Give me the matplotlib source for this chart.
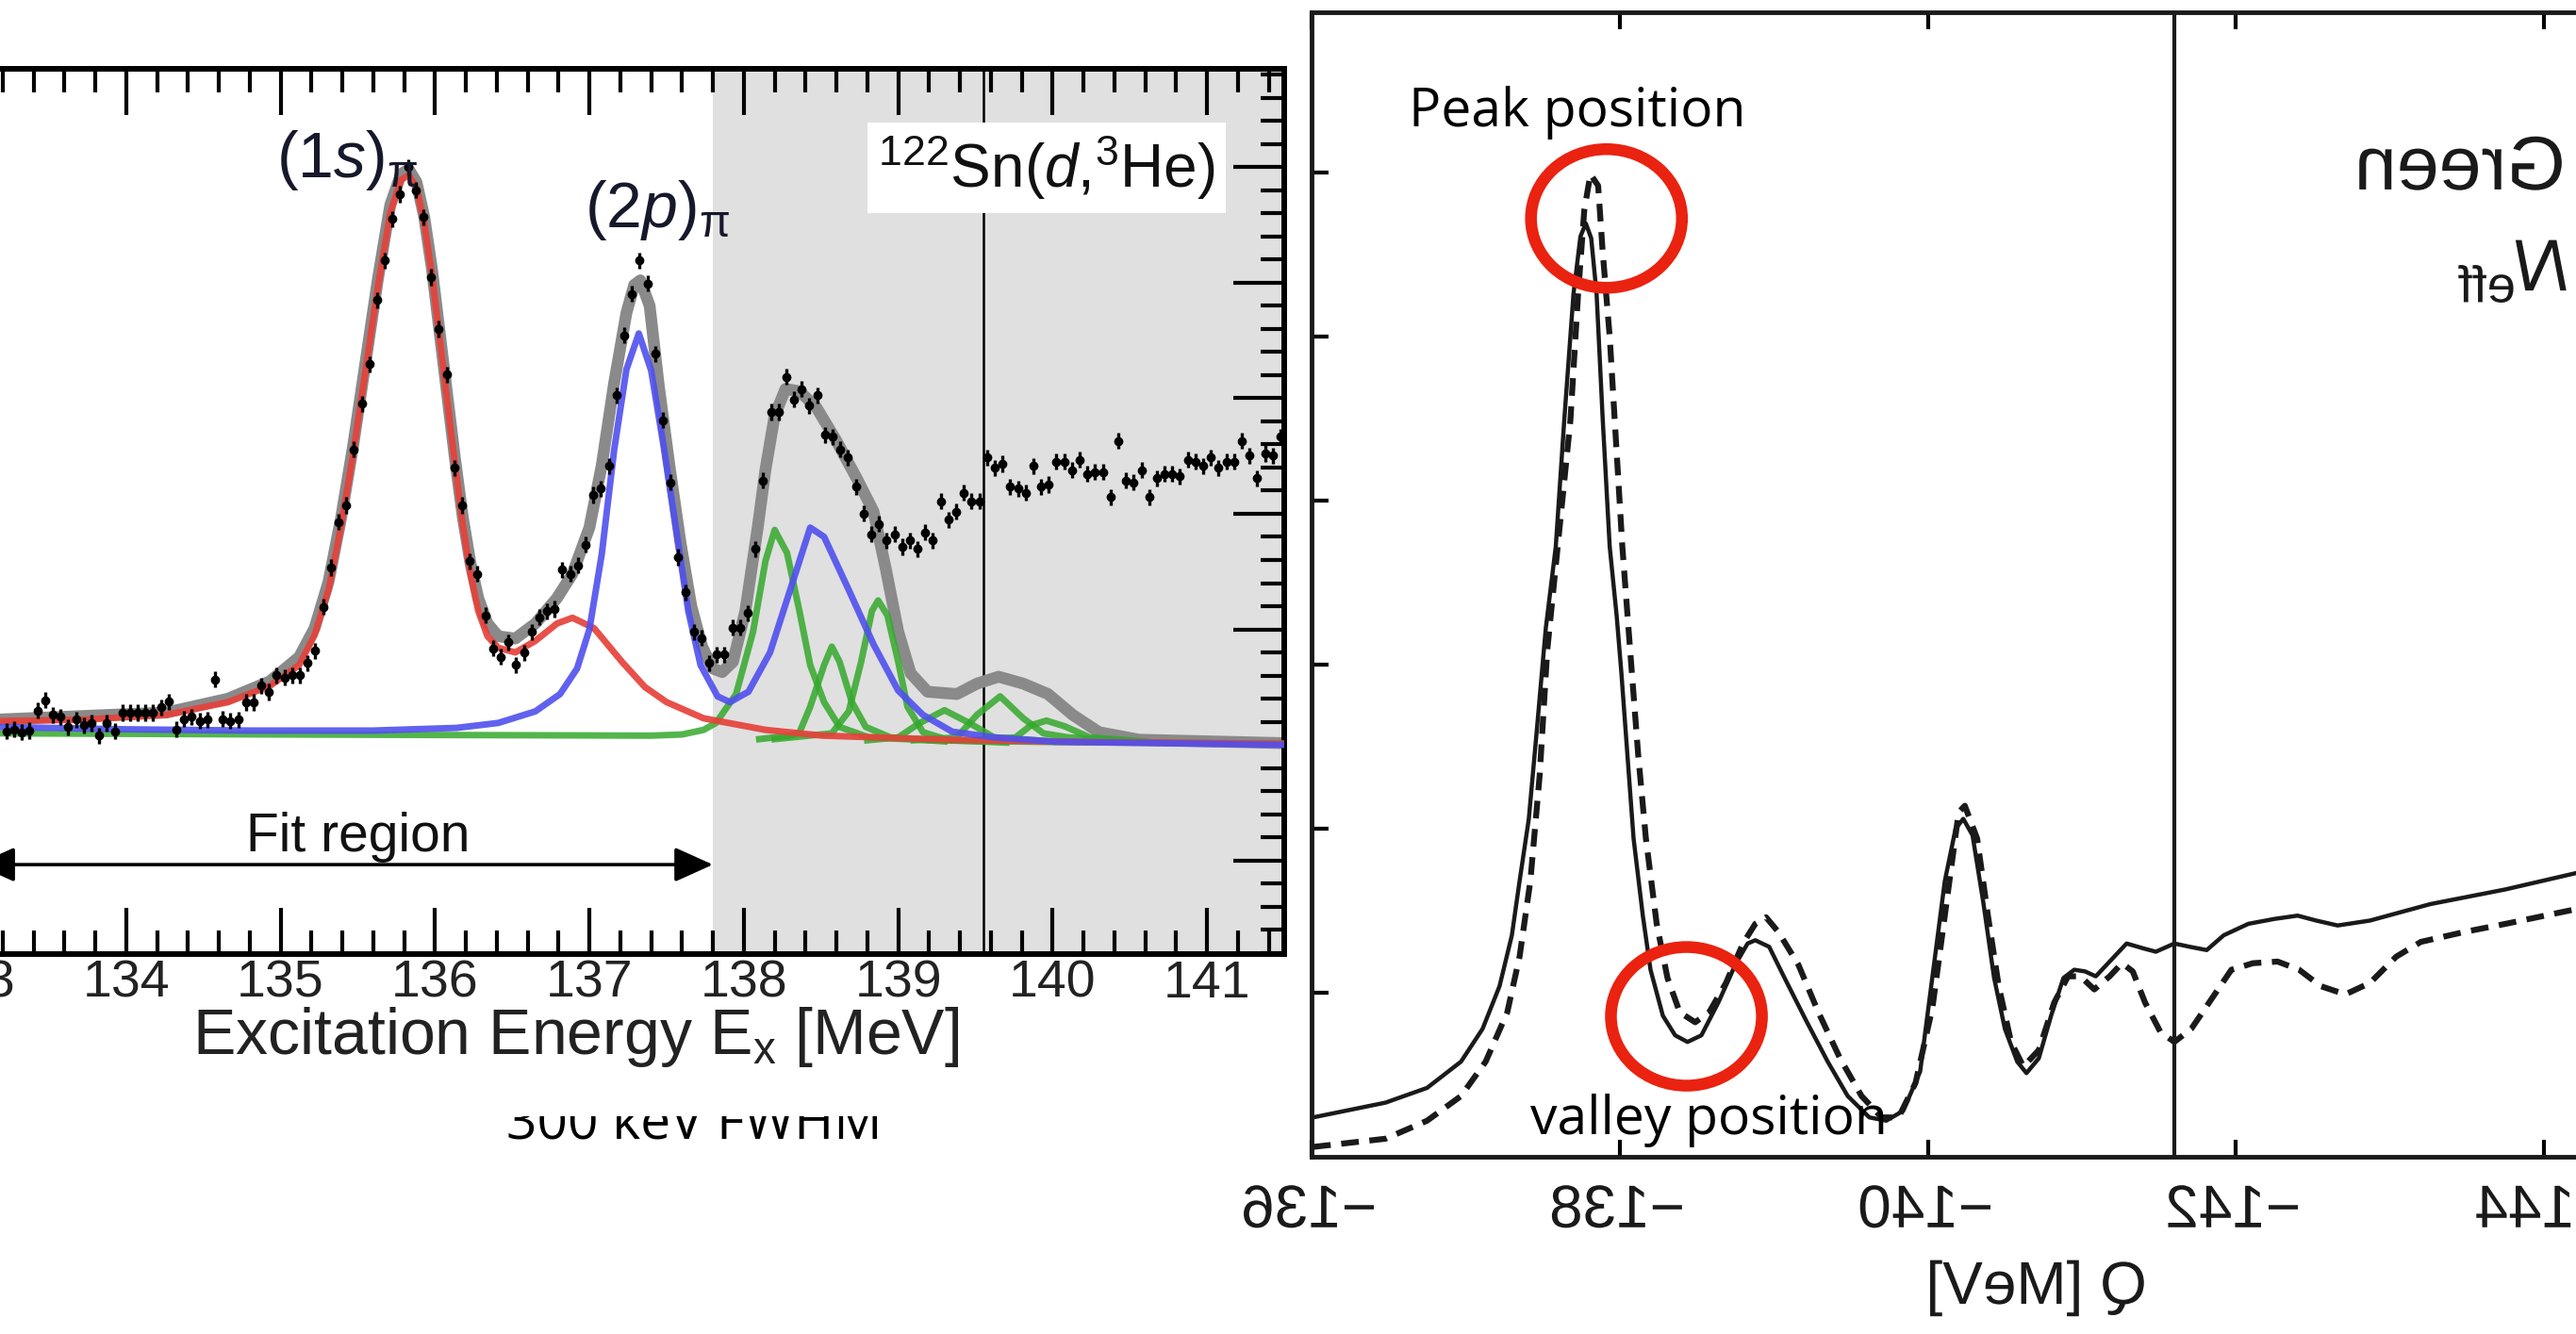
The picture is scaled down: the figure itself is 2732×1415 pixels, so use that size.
import matplotlib
matplotlib.use('Agg')
import numpy as np
import matplotlib.pyplot as plt
import matplotlib.patheffects as pe
from matplotlib.patches import Ellipse
from matplotlib.ticker import MultipleLocator
from matplotlib.transforms import Affine2D, Bbox, TransformedBbox

plt.rcParams['font.family'] = ['Liberation Sans', 'DejaVu Sans']
plt.rcParams['mathtext.fontset'] = 'custom'
plt.rcParams['mathtext.rm'] = 'Liberation Sans'
plt.rcParams['mathtext.it'] = 'Liberation Sans:italic'
plt.rcParams['mathtext.bf'] = 'Liberation Sans:bold'

# ---- left panel: 122Sn(d,3He) spectrum -------------------------------------
bin_start, bin_width = 133.225, 0.05     # histogram bins [MeV]
counts = [11.7, 13.5, 11.0, 12.4, 29.6, 38.6, 26.0, 24.2, 15.3, 21.8,
          17.1, 18.9, 8.1, 18.9, 11.7, 27.8, 27.8, 27.8, 27.8, 27.8,
          32.5, 37.5, 13.5, 22.4, 24.2, 20.6, 21.8, 56.5, 22.4, 20.6,
          21.8, 36.8, 36.8, 51.1, 45.8, 60.1, 58.3, 60.1, 60.1, 70.9,
          81.6, 119.4, 153.5, 193.0, 207.3, 255.8, 295.3, 329.3, 385.0, 419.1,
          455.0, 476.5, 499.8, 480.1, 456.8, 404.7, 359.9, 320.4, 239.6, 207.3,
          158.9, 148.1, 112.2, 83.4, 76.3, 88.8, 69.1, 79.9, 97.8, 110.4,
          115.8, 117.6, 151.7, 148.1, 155.3, 173.2, 216.3, 221.7, 241.4, 302.4,
          354.5, 390.4, 419.1,
          399.3, 338.3, 280.9, 227.1, 162.5, 131.9, 97.8, 92.4, 70.9, 78.1,
          78.1, 101.4, 101.4, 114.0, 169.7, 228.9, 288.1, 288.1, 318.6, 298.9,
          307.8, 293.4, 302.4, 268.3, 266.6, 255.8, 248.6, 223.5, 200.2, 182.2,
          191.2, 176.8, 182.2, 171.4, 176.8, 169.7, 184.0, 176.8, 210.9, 194.8,
          202.0, 218.3, 210.9, 210.9, 248.6, 239.6, 243.2, 223.5, 221.7, 218.3,
          241.4, 223.5, 225.3, 245.0, 245.0, 237.8, 246.8, 234.3, 236.1, 236.1,
          214.5, 263.0, 228.9, 227.1, 237.8, 214.5, 230.6, 234.3, 234.3, 232.4,
          246.8, 245.0, 241.4, 248.6, 239.6, 245.0, 245.0, 263.0, 250.4, 230.6,
          252.2, 250.4, 266.6]
count_err = 7.0

total_x = [133.18, 134.26, 134.66, 134.93, 135.12, 135.22, 135.31, 135.39, 135.47, 135.55,
           135.63, 135.71, 135.78, 135.83, 135.88, 135.93, 135.98, 136.03, 136.08, 136.13,
           136.18, 136.23, 136.28, 136.34, 136.41, 136.52, 136.65, 136.79, 136.89, 137.00,
           137.08, 137.16, 137.24, 137.29, 137.33, 137.39, 137.45, 137.52, 137.59, 137.66,
           137.73, 137.80, 137.86, 137.93, 138.01, 138.09, 138.14, 138.20, 138.27, 138.36,
           138.47, 138.60, 138.73, 138.84, 138.92, 139.00, 139.08, 139.19, 139.38, 139.51,
           139.65, 139.81, 139.97, 140.13, 140.30, 140.56, 141.50]
total_y = [22, 28, 40, 55, 76, 101, 141, 195, 259, 331,
           403, 467, 494, 498, 487, 457, 412, 357, 302, 247,
           197, 157, 127, 105, 94, 92, 105, 127, 148, 188,
           242, 313, 374, 398, 402, 380, 310, 240, 175, 120,
           85, 66, 63, 72, 116, 188, 238, 285, 308, 306,
           292, 263, 231, 202, 152, 98, 62, 46, 44, 53,
           59, 53, 44, 26, 11, 4.5, 1.5]

s_x = [133.18, 133.72, 134.26, 134.66, 134.93, 135.12, 135.22, 135.31, 135.39, 135.47,
       135.55, 135.63, 135.71, 135.78, 135.83, 135.88, 135.93, 135.98, 136.03, 136.08,
       136.13, 136.18, 136.23, 136.28, 136.34, 136.41, 136.52, 136.65, 136.79, 136.89,
       137.03, 137.21, 137.36, 137.50, 137.74, 138.14, 138.51, 139.32, 140.12, 141.50]
s_y = [20.6, 21.8, 26, 37, 51, 69, 95, 134, 188, 252,
       324, 396, 460, 489, 493, 482, 452, 407, 352, 297,
       242, 190, 148, 116, 94, 84, 80, 90, 105, 110,
       101, 72, 50, 37, 23, 13, 8, 4.5, 2.7, 1]

p_x = [133.18, 133.99, 134.80, 135.60, 136.14, 136.41, 136.65, 136.81, 136.92, 137.00,
       137.08, 137.16, 137.24, 137.32, 137.40, 137.48, 137.56, 137.64, 137.72, 137.83,
       137.91, 138.03, 138.17, 138.30, 138.43, 138.52, 138.68, 138.84, 139.00, 139.16,
       139.35, 139.62, 140.02, 141.50]
p_y = [15.5, 13.5, 12.4, 12.4, 14.7, 19, 29, 44, 66, 100,
       165, 255, 325, 356, 324, 259, 188, 116, 69, 42,
       37, 46, 80, 134, 188, 180, 134, 87, 47, 26,
       11.4, 6.5, 2.7, 0]

d_peaks = [
    ([133.18, 135.0, 137.4, 137.6, 137.74, 137.82, 137.95, 138.06, 138.14, 138.20,
      138.28, 138.36, 138.43, 138.52, 138.62, 138.81, 139.2, 140.0, 141.5],
     [10, 9, 8, 9, 13, 19, 44, 98, 159, 186, 166, 116, 69, 37, 15.5, 6.5, 4, 2.5, 1]),
    ([138.10, 138.30, 138.36, 138.43, 138.52, 138.57, 138.62, 138.70, 138.79, 138.95, 139.30],
     [5, 8, 10.6, 33, 69, 85, 72, 37, 15.5, 6.5, 3]),
    ([138.20, 138.57, 138.68, 138.76, 138.83, 138.87, 138.93, 139.00, 139.06, 139.16, 139.33, 139.70],
     [5, 10, 29, 72, 116, 125, 112, 72, 33, 11, 4, 2]),
    ([138.80, 139.00, 139.14, 139.30, 139.46, 139.62, 140.00],
     [4, 6.5, 19, 30, 19, 6.5, 3]),
    ([139.10, 139.38, 139.51, 139.66, 139.81, 139.94, 140.10, 140.50],
     [4, 6.5, 26, 42, 23, 10, 6.5, 3]),
    ([139.50, 139.76, 139.86, 139.96, 140.08, 140.24, 140.60],
     [4, 6.5, 17, 21, 16, 6.5, 3]),
]

fit_end = 137.8
ref_line = 139.55

# ---- right panel: mirrored Q-spectrum --------------------------------------
green_q = [-136.01, -136.48, -136.75, -136.97, -137.11, -137.22, -137.30, -137.35, -137.41, -137.46,
           -137.52, -137.585, -137.64, -137.70, -137.745, -137.78, -137.815, -137.85, -137.89, -137.935,
           -137.98, -138.01, -138.05, -138.09, -138.15, -138.20, -138.28, -138.36, -138.44, -138.53,
           -138.64, -138.75, -138.83, -138.88, -138.97, -139.07, -139.21, -139.35, -139.48, -139.62,
           -139.73, -139.84, -139.95, -140.03, -140.11, -140.18, -140.23, -140.29, -140.36, -140.43,
           -140.50, -140.58, -140.64, -140.72, -140.80, -140.88, -140.95, -141.02, -141.09, -141.18,
           -141.29, -141.40, -141.48, -141.60, -141.70, -141.81, -141.92, -142.08, -142.25, -142.40,
           -142.52, -142.66, -142.87, -143.26, -143.75, -144.21]
green_val = [0.24, 0.33, 0.42, 0.58, 0.78, 1.04, 1.35, 1.68, 2.06, 2.58,
             3.22, 3.72, 4.49, 5.26, 5.61, 5.69, 5.60, 5.26, 4.49, 3.72,
             3.30, 2.96, 2.45, 1.94, 1.47, 1.14, 0.86, 0.74, 0.70, 0.74,
             0.94, 1.17, 1.30, 1.32, 1.28, 1.09, 0.83, 0.58, 0.37, 0.24,
             0.22, 0.28, 0.52, 1.10, 1.68, 2.00, 2.06, 1.96, 1.55, 1.09,
             0.78, 0.58, 0.51, 0.60, 0.86, 1.09, 1.14, 1.13, 1.10, 1.19,
             1.30, 1.27, 1.25, 1.30, 1.28, 1.26, 1.35, 1.42, 1.45, 1.47,
             1.44, 1.41, 1.44, 1.54, 1.63, 1.73]

neff_q = [-136.01, -136.48, -136.75, -136.97, -137.13, -137.27, -137.35, -137.42, -137.48, -137.53,
          -137.59, -137.68, -137.73, -137.77, -137.81, -137.86, -137.89, -137.935, -137.976, -138.017,
          -138.07, -138.12, -138.17, -138.24, -138.31, -138.39, -138.49, -138.58, -138.69, -138.80,
          -138.88, -138.95, -139.03, -139.16, -139.29, -139.43, -139.57, -139.70, -139.81, -139.92,
          -140.03, -140.14, -140.20, -140.24, -140.32, -140.39, -140.46, -140.54, -140.62, -140.72,
          -140.82, -140.91, -140.99, -141.08, -141.18, -141.26, -141.33, -141.41, -141.51, -141.60,
          -141.71, -141.84, -141.97, -142.11, -142.27, -142.41, -142.55, -142.71, -142.87, -143.04,
          -143.20, -143.48, -143.75, -144.21]
neff_val = [0.06, 0.11, 0.22, 0.37, 0.58, 0.88, 1.22, 1.68, 2.32, 3.09,
            3.65, 4.49, 5.26, 5.77, 5.99, 5.92, 5.51, 5.00, 4.36, 3.72,
            3.06, 2.45, 1.94, 1.42, 1.09, 0.88, 0.82, 0.88, 1.06, 1.30,
            1.42, 1.46, 1.37, 1.17, 0.88, 0.60, 0.37, 0.24, 0.24, 0.45,
            0.91, 1.68, 2.10, 2.14, 1.94, 1.47, 1.04, 0.70, 0.55, 0.65,
            0.94, 1.10, 1.10, 1.02, 1.10, 1.18, 1.13, 0.94, 0.76, 0.70,
            0.78, 0.96, 1.14, 1.18, 1.19, 1.14, 1.04, 0.99, 1.06, 1.22,
            1.31, 1.37, 1.42, 1.51]

q_ticks = [-136, -138, -140, -142, -144]
q_line = -141.60
peak_mark = (-137.914, 5.72)
valley_mark = (-138.433, 0.856)


class Mirror(pe.AbstractPathEffect):
    """draw the text flipped left/right about its own centre"""
    def draw_path(self, renderer, gc, tpath, affine, rgbFace=None):
        xs = tpath.vertices[:, 0]
        if len(xs):
            flip = Affine2D().scale(-1, 1).translate(xs.min() + xs.max(), 0)
            affine = flip + affine
        renderer.draw_path(gc, tpath, affine, rgbFace)


W, H = 2732, 1415
fig = plt.figure(figsize=(W / 100, H / 100), dpi=100)

# left axes (extends past the left edge of the picture)
ax = fig.add_axes([-111.8 / W, (H - 1012) / H, 1473.8 / W, 939 / H])
ax.set_xlim(132.5, 141.5)
ax.set_ylim(-181, 585)
ax.axvspan(fit_end, 141.5, color='#e0e0e0', lw=0, zorder=0)
ax.axvline(ref_line, color='k', lw=1.8, zorder=1)

ax.plot(total_x, total_y, color='#8a8a8a', lw=9, solid_capstyle='round', zorder=2)
for gx, gy in d_peaks:
    ax.plot(gx, gy, color='#35a82c', lw=5, alpha=0.85, zorder=3)
ax.plot(s_x, s_y, color='#e5423a', lw=5, alpha=0.92, zorder=3)
ax.plot(p_x, p_y, color='#5050ee', lw=5, alpha=0.9, zorder=3)

ex_bins = bin_start + bin_width * np.arange(len(counts))
ax.errorbar(ex_bins, counts, yerr=count_err, fmt='o', ms=6, color='k',
            elinewidth=2.4, capsize=0, zorder=5)

txt_col = '#16192b'
ax.text(134.97, 491, r'(1$s$)$_{\mathrm{\pi}}$', fontsize=49, color=txt_col, zorder=6)
ax.text(136.97, 448, r'(2$p$)$_{\mathrm{\pi}}$', fontsize=49, color=txt_col, zorder=6)
ax.text(138.87, 482, r'$^{122}$Sn($d$,$^{3}$He)', fontsize=46, color='#111111', zorder=7,
        bbox=dict(boxstyle='square,pad=0.18', fc='white', ec='none'))
ax.text(135.50, -92, 'Fit region', fontsize=41, ha='center', color='#111111')
ax.annotate('', xy=(fit_end, -103.6), xytext=(133.03, -103.6),
            arrowprops=dict(arrowstyle='<|-|>,head_length=1.0,head_width=0.45',
                            mutation_scale=25, lw=2.6, color='k',
                            shrinkA=0, shrinkB=0))

ax.set_xlabel(r'Excitation Energy E$_\mathrm{x}$ [MeV]', fontsize=49, color='#222222')
ax.xaxis.set_label_coords(0.49, -0.057)
ax.xaxis.set_major_locator(MultipleLocator(1))
ax.xaxis.set_minor_locator(MultipleLocator(0.2))
ax.yaxis.set_major_locator(MultipleLocator(100))
ax.yaxis.set_minor_locator(MultipleLocator(20))
ax.tick_params(axis='x', which='major', direction='in', length=35, width=3,
               top=True, bottom=True, labelsize=40, pad=4, labelcolor='#222222')
ax.tick_params(axis='x', which='minor', direction='in', length=18, width=3,
               top=True, bottom=True)
ax.tick_params(axis='y', which='major', direction='in', length=39, width=3,
               left=False, right=True, labelleft=False)
ax.tick_params(axis='y', which='minor', direction='in', length=18, width=3,
               left=False, right=True)
for side in ['top', 'bottom', 'right', 'left']:
    ax.spines[side].set_linewidth(4.3)

# right axes (mirrored scan, runs past the right edge)
ax2 = fig.add_axes([1391 / W, (H - 1227) / H, 1470.6 / W, 1214.5 / H])
ax2.set_xlim(-136, -145)
ax2.set_ylim(0, 6.98)
ax2.axvline(q_line, color='#1a1a1a', lw=3, zorder=1)
ax2.plot(green_q, green_val, color='#1a1a1a', lw=3.2, zorder=3)
ax2.plot(neff_q, neff_val, color='#1a1a1a', lw=4.5, dashes=(3, 1.8), zorder=3)

ax2.set_xticks(q_ticks)
ax2.set_yticks([1, 2, 3, 4, 5, 6])
ax2.tick_params(axis='x', direction='in', length=13, width=3, top=True,
                labelsize=46, pad=20, labelcolor='#1a1a1a')
ax2.tick_params(axis='y', direction='in', length=13, width=3, labelleft=False)
for side in ['top', 'bottom', 'right', 'left']:
    ax2.spines[side].set_linewidth(3.5)
    ax2.spines[side].set_color('#1a1a1a')
for t in ax2.xaxis.get_major_ticks():
    t.label1.set_path_effects([Mirror()])
ax2.set_xlabel('Q [MeV]', fontsize=46, color='#1a1a1a', path_effects=[Mirror()])
ax2.xaxis.set_label_coords(0.5257, -0.0897)

narrow = ['Liberation Sans Narrow', 'Liberation Sans', 'DejaVu Sans']
ax2.text(-144.17, 5.897, 'Green', fontsize=58, family=narrow, ha='right',
         va='baseline', color='#1a1a1a', path_effects=[Mirror()])
ax2.text(-144.17, 5.28, r'$N_{\mathrm{eff}}$', fontsize=56, ha='right',
         va='baseline', color='#1a1a1a', path_effects=[Mirror()])

hum = ['Open Sans', 'DejaVu Sans']
ax2.text(-136.63, 6.28, 'Peak position', fontsize=41, family=hum, va='baseline', zorder=6)
ax2.text(-137.42, 0.14, 'valley position', fontsize=41, family=hum, va='baseline', zorder=6)
for c in [peak_mark, valley_mark]:
    ax2.add_patch(Ellipse(c, 0.98, 0.845, fill=False, ec='#ea2210', lw=9, zorder=7))

# half-hidden caption from a neighbouring panel
cap = fig.text(537 / W, 1 - 1207 / H, '300 keV FWHM', fontsize=41, family=hum,
               va='baseline', color='k')
cap.set_clip_box(TransformedBbox(Bbox([[0, 0], [1, 1 - 1184 / H]]), fig.transFigure))

fig.savefig('out.png', dpi=100, facecolor='white')
